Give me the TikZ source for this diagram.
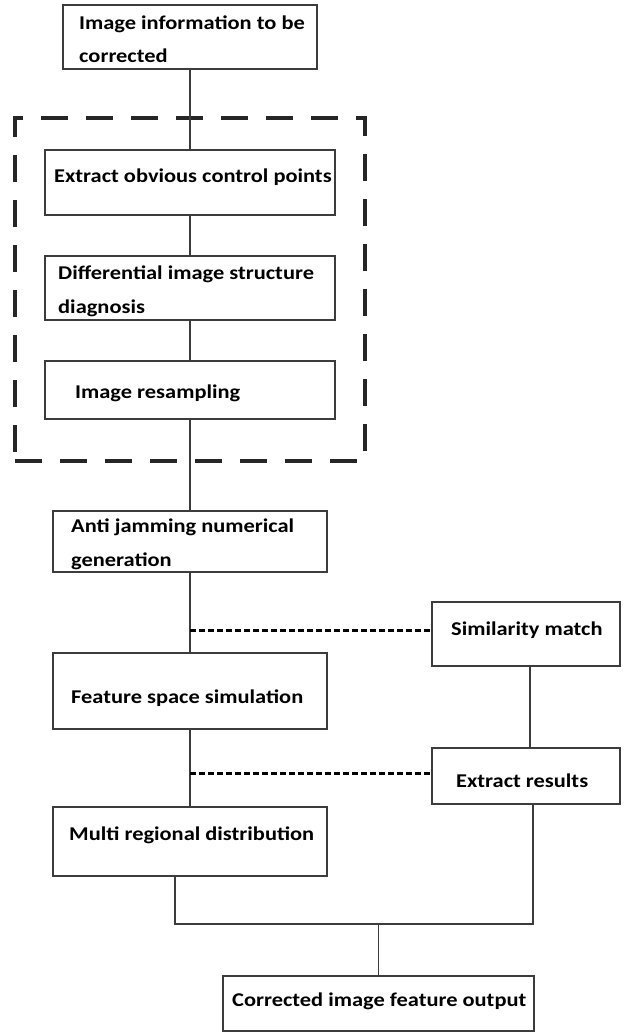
\documentclass[tikz,border=0pt]{standalone}
\usepackage{fontspec}
\setmainfont{Carlito}[FakeStretch=1.15]
\usepackage{tikz}
\definecolor{edgegray}{RGB}{60, 60, 60}

\begin{document}
\begin{tikzpicture}[
    x=1pt, y=-1pt,
    stage/.style={rectangle, draw=edgegray, line width=1.4pt, fill=white, inner sep=0pt},
    caption/.style={anchor=base west, inner sep=0pt, align=left, font=\fontsize{19.5}{33.5}\selectfont\bfseries},
    group/.style={rectangle, draw=black!85, line width=3.6pt, dash pattern=on 27pt off 18pt, inner sep=0pt},
    link/.style={draw=edgegray, line width=1.3pt},
    hint/.style={draw=black, line width=3pt, dash pattern=on 5.5pt off 3.5pt}
]
    \useasboundingbox (0,0) rectangle (631,1033);

    % Correction group
    \node[group, minimum width=350, minimum height=343] (frame) at (190, 289.5) {};

    % Main column
    \node[stage, minimum width=254, minimum height=64] (input) at (190, 37) {};
    \node[caption] (input_t) at (79, 63) {Image information to be\\corrected};
    \node[stage, minimum width=290, minimum height=65] (extract) at (190, 182.5) {};
    \node[caption] (extract_t) at (54, 182) {Extract obvious control points};
    \node[stage, minimum width=290, minimum height=64] (diff) at (190, 288) {};
    \node[caption] (diff_t) at (58, 313) {Differential image structure\\diagnosis};
    \node[stage, minimum width=290, minimum height=58] (resample) at (190, 390) {};
    \node[caption] (resample_t) at (75, 398) {Image resampling};
    \node[stage, minimum width=274, minimum height=61] (antijam) at (190, 541.5) {};
    \node[caption] (antijam_t) at (71, 566) {Anti jamming numerical\\generation};
    \node[stage, minimum width=274, minimum height=76] (feature) at (190, 691) {};
    \node[caption] (feature_t) at (71, 703) {Feature space simulation};
    \node[stage, minimum width=274, minimum height=69] (multireg) at (190, 841.5) {};
    \node[caption] (multireg_t) at (69, 840) {Multi regional distribution};

    % Side column
    \node[stage, minimum width=188, minimum height=64] (simmatch) at (526, 634) {};
    \node[caption] (simmatch_t) at (451, 635) {Similarity match};
    \node[stage, minimum width=188, minimum height=56] (results) at (526, 776) {};
    \node[caption] (results_t) at (456, 787) {Extract results};

    % Output
    \node[stage, minimum width=311, minimum height=55] (output) at (378.5, 1003.5) {};
    \node[caption] (output_t) at (232, 1006) {Corrected image feature output};

    \coordinate (tap1) at (190, 630);
    \coordinate (tap2) at (190, 773);
    \coordinate (merge) at (378.5, 924);

    % Lines
    \draw[link] (input) -- (extract);
    \draw[link] (extract) -- (diff);
    \draw[link] (diff) -- (resample);
    \draw[link] (resample) -- (antijam);
    \draw[link] (antijam) -- (feature);
    \draw[link] (feature) -- (multireg);

    \draw[hint] (tap1) -- (tap1 -| simmatch.west);
    \draw[hint] (tap2) -- (tap2 -| results.west);
    \draw[link] ([xshift=4pt]simmatch.south) -- ([xshift=4pt]results.north);

    \draw[link] ([xshift=-15pt]multireg.south) |- (merge) -| ([xshift=7pt]results.south);
    \draw[link] (merge) -- (output);

\end{tikzpicture}
\end{document}
